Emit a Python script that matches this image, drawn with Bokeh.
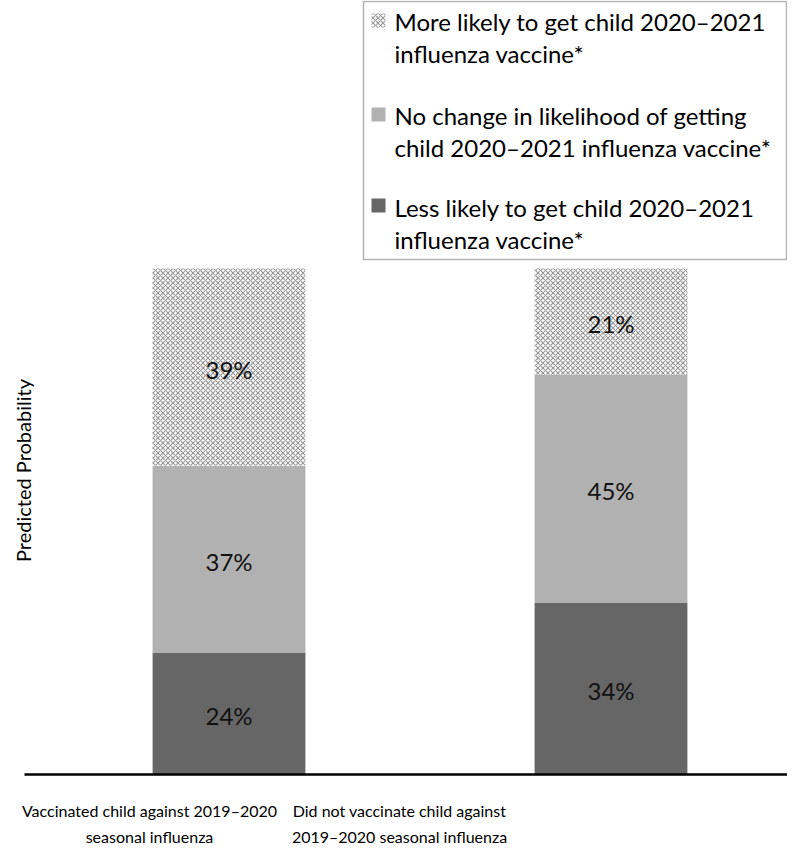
import math
from bokeh.plotting import figure
from bokeh.models import ColumnDataSource, Range1d, Label, BoxAnnotation
from bokeh.core.properties import value
from bokeh.embed import file_html
from bokeh.resources import INLINE

# ---- data ----
group_lines = [["Vaccinated child against 2019\u20132020", "seasonal influenza"],
               ["Did not vaccinate child against", "2019\u20132020 seasonal influenza"]]
less_likely = [24, 34]
no_change = [37, 45]
more_likely = [39, 21]
series_lines = [["More likely to get child 2020\u20132021", "influenza vaccine*"],
                ["No change in likelihood of getting", "child 2020\u20132021 influenza vaccine*"],
                ["Less likely to get child 2020\u20132021", "influenza vaccine*"]]
y_title = "Predicted Probability"

FONT = "Lato"
COL_LESS, COL_SAME, COL_MORE = "#666666", "#b1b1b1", "white"
HATCH = dict(hatch_pattern="diagonal_cross", hatch_color="#9a9a9a",
             hatch_scale=5, hatch_weight=1.2)

# ---- layout (pixels inside the figure) ----
W, H = 787, 846
Y0 = 774                  # pixel row of value 0
XS = 382.0                # px per category step
YS = 5.06                 # px per percent
x_start = -228.5 / XS
x_end = x_start + W / XS
y_end = Y0 / YS
y_start = -(H - Y0) / YS

def dx(px):
    return x_start + px / XS

def dy(py):
    return (Y0 - py) / YS

xs = list(range(len(group_lines)))
src = ColumnDataSource(dict(x=xs, less=less_likely, nochange=no_change, more=more_likely))

p = figure(width=W, height=H, x_range=Range1d(x_start, x_end), y_range=Range1d(y_start, y_end),
           output_backend="svg", toolbar_location=None,
           min_border_left=0, min_border_right=0, min_border_top=0, min_border_bottom=0)
p.outline_line_color = None
p.xgrid.visible = False
p.ygrid.visible = False
p.xaxis.visible = False
p.yaxis.visible = False

rs = p.vbar_stack(["less", "nochange", "more"], x="x", width=0.4, source=src,
                  fill_color=[COL_LESS, COL_SAME, COL_MORE], line_color=None)
for k, v in HATCH.items():
    setattr(rs[2].glyph, k, v)

# baseline (category axis line)
p.segment(x0=[dx(24)], y0=[0], x1=[x_end], y1=[0], line_color="black", line_width=2.5)

# percent labels at segment midpoints
lab_x, lab_y, lab_t = [], [], []
for i in xs:
    base = 0
    for vals in (less_likely, no_change, more_likely):
        v = vals[i]
        lab_x.append(i)
        lab_y.append(base + v / 2)
        lab_t.append(f"{v}%")
        base += v
p.text(x=lab_x, y=lab_y, text=lab_t, text_align="center", text_baseline="middle",
       y_offset=2, text_font=value(FONT), text_font_size="24px", text_color="#111111")

# category labels under the axis
label_cx = [149, 399]
for cx, lines in zip(label_cx, group_lines):
    for j, line in enumerate(lines):
        p.add_layout(Label(x=dx(cx), y=dy(810 + 26 * j), text=line,
                           text_align="center", text_baseline="middle",
                           text_font=FONT, text_font_size="16px", text_color="black"))

# y title
p.add_layout(Label(x=dx(22), y=dy(470), text=y_title, angle=math.pi / 2,
                   text_align="center", text_baseline="middle",
                   text_font=FONT, text_font_size="20px", text_color="black"))

# legend (drawn by hand so that the two-line labels match)
LG_L, LG_R, LG_T, LG_B = 363, 786, 1, 259
p.add_layout(BoxAnnotation(left=dx(LG_L), right=dx(LG_R), top=dy(LG_T), bottom=dy(LG_B),
                           fill_color="white", fill_alpha=1, line_color="black",
                           line_width=1.5))
sw_centres = [20, 114, 205]
text_centres = [(21, 53), (115, 147), (207, 239)]
sw_styles = [dict(fill_color=COL_MORE, **HATCH), dict(fill_color=COL_SAME),
             dict(fill_color=COL_LESS)]
for lines, c, tc, st in zip(series_lines, sw_centres, text_centres, sw_styles):
    p.add_layout(BoxAnnotation(left=dx(371), right=dx(385), top=dy(c - 7), bottom=dy(c + 7),
                               fill_alpha=1, line_color=None, **st))
    for line, t in zip(lines, tc):
        p.add_layout(Label(x=dx(394), y=dy(t), text=line, text_align="left",
                           text_baseline="middle", text_font=FONT,
                           text_font_size="24px", text_color="black"))

open("out.html", "w").write(file_html(p, INLINE))
